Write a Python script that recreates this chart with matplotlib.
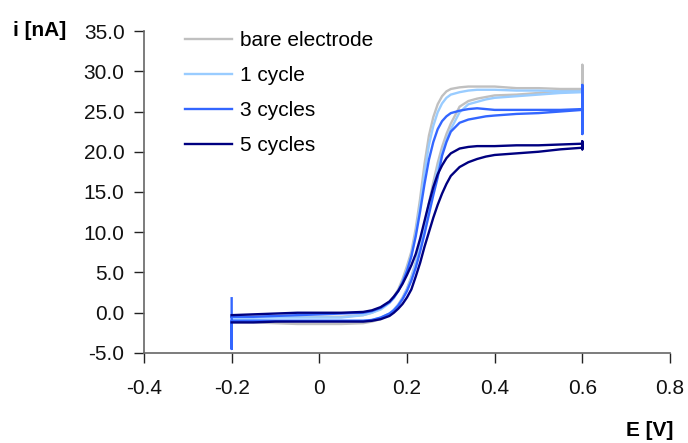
import matplotlib
matplotlib.use("Agg")
import matplotlib.pyplot as plt

plt.rcParams["font.family"] = ["Liberation Sans", "DejaVu Sans"]

# potential grid (V) shared by every branch
E_GRID = [-0.20, -0.15, -0.10, -0.05, 0.00, 0.05, 0.10, 0.12, 0.14, 0.16,
          0.17, 0.18, 0.19, 0.20, 0.21, 0.22, 0.23, 0.24, 0.25, 0.26,
          0.27, 0.28, 0.29, 0.30, 0.32, 0.34, 0.36, 0.38, 0.40, 0.45,
          0.50, 0.55, 0.60]

LABELS = ["bare electrode", "1 cycle", "3 cycles", "5 cycles"]
COLORS = ["#c0c0c0", "#99ccff", "#3366ff", "#000080"]

# lower (right-shifted) branch, nA
BARE_LOW = [-1.2, -1.2, -1.3, -1.4, -1.4, -1.4, -1.3, -1.1, -0.8, -0.2,
            0.3, 1.0, 1.9, 3.0, 4.5, 6.3, 8.5, 11.0, 13.6, 16.2,
            18.6, 20.6, 22.2, 23.5, 25.6, 26.3, 26.6, 26.8, 27.0, 27.1,
            27.3, 27.5, 27.7]
CYC1_LOW = [-0.9, -0.9, -1.0, -1.0, -1.0, -1.0, -1.0, -0.9, -0.6, -0.1,
            0.4, 1.0, 1.8, 2.9, 4.3, 6.1, 8.2, 10.6, 13.1, 15.6,
            17.9, 19.9, 21.5, 22.8, 24.9, 25.9, 26.2, 26.5, 26.7, 26.9,
            27.1, 27.3, 27.4]
CYC3_LOW = [-1.0, -1.0, -1.0, -1.0, -1.0, -1.0, -1.0, -0.9, -0.6, -0.1,
            0.3, 0.9, 1.7, 2.7, 4.0, 5.6, 7.6, 9.8, 12.2, 14.6,
            16.8, 19.5, 21.2, 22.5, 23.6, 24.0, 24.2, 24.4, 24.5, 24.7,
            24.8, 25.0, 25.2]
CYC5_LOW = [-1.2, -1.2, -1.1, -1.1, -1.1, -1.1, -1.1, -1.0, -0.8, -0.4,
            0.0, 0.5, 1.1, 1.9, 2.9, 4.5, 6.2, 8.2, 10.0, 11.8,
            13.4, 14.8, 16.0, 17.0, 18.1, 18.7, 19.1, 19.4, 19.6, 19.8,
            20.0, 20.3, 20.5]

# upper (left-shifted) branch, nA
BARE_UP = [-0.5, -0.5, -0.5, -0.5, -0.5, -0.5, -0.3, 0.0, 0.5, 1.3,
           2.0, 2.9, 4.2, 5.8, 7.6, 10.5, 14.2, 18.5, 22.0, 24.3,
           25.9, 26.9, 27.5, 27.8, 28.0, 28.1, 28.1, 28.1, 28.1, 27.9,
           27.9, 27.8, 27.8]
CYC1_UP = [-0.6, -0.6, -0.6, -0.6, -0.6, -0.6, -0.3, 0.0, 0.4, 1.2,
           1.8, 2.7, 3.9, 5.4, 7.2, 9.9, 13.4, 17.4, 20.8, 23.2,
           24.9, 26.0, 26.7, 27.1, 27.4, 27.6, 27.7, 27.7, 27.7, 27.6,
           27.6, 27.5, 27.5]
CYC3_UP = [-0.5, -0.5, -0.4, -0.3, -0.2, -0.1, 0.0, 0.2, 0.6, 1.3,
           1.9, 2.7, 3.8, 5.2, 7.0, 9.5, 12.6, 16.0, 19.0, 21.2,
           22.8, 23.8, 24.4, 24.8, 25.1, 25.3, 25.4, 25.3, 25.2, 25.2,
           25.2, 25.2, 25.3]
CYC5_UP = [-0.3, -0.2, -0.1, 0.0, 0.0, 0.0, 0.1, 0.3, 0.7, 1.4,
           2.0, 2.7, 3.6, 4.7, 5.9, 7.3, 9.2, 11.4, 13.6, 15.6,
           17.2, 18.3, 19.2, 19.8, 20.4, 20.6, 20.7, 20.7, 20.7, 20.8,
           20.8, 20.9, 21.0]

# switching spikes at -0.2 V and 0.6 V
SPIKE_START = [[], [], [1.8, -4.5], []]
SPIKE_END = [[30.8], [], [28.3, 22.2], [21.3, 20.3]]

LOWS = [BARE_LOW, CYC1_LOW, CYC3_LOW, CYC5_LOW]
UPS = [BARE_UP, CYC1_UP, CYC3_UP, CYC5_UP]

fig = plt.figure(figsize=(6.88, 4.43), dpi=100)
ax = fig.add_axes([0.2093, 0.2032, 0.7645, 0.7268])

for label, color, low, up, s0, s1 in zip(LABELS, COLORS, LOWS, UPS, SPIKE_START, SPIKE_END):
    xs = [E_GRID[0]] * len(s0) + E_GRID + [E_GRID[-1]] * len(s1) + E_GRID[::-1]
    ys = s0 + low + s1 + up[::-1]
    ax.plot(xs, ys, color=color, linewidth=1.7, label=label)

ax.set_xlim(-0.4, 0.8)
ax.set_ylim(-5, 35)
ax.set_xticks([-0.4, -0.2, 0, 0.2, 0.4, 0.6, 0.8])
ax.set_xticklabels(["-0.4", "-0.2", "0", "0.2", "0.4", "0.6", "0.8"])
ax.set_yticks([-5, 0, 5, 10, 15, 20, 25, 30, 35])
ax.set_yticklabels([f"{v:.1f}" for v in [-5, 0, 5, 10, 15, 20, 25, 30, 35]])

for side in ["top", "right"]:
    ax.spines[side].set_visible(False)
for side in ["left", "bottom"]:
    ax.spines[side].set_color("#666666")
    ax.spines[side].set_linewidth(1.2)
ax.tick_params(axis="both", direction="out", length=7, width=1.0, color="#222222",
               labelsize=15, labelcolor="#111111")
ax.tick_params(axis="y", pad=7)
ax.tick_params(axis="x", pad=12)

fig.text(13 / 688, 1 - 31 / 443, "i [nA]", fontsize=15, fontweight="bold",
         ha="left", va="center")
fig.text(673 / 688, 1 - 430 / 443, "E [V]", fontsize=15, fontweight="bold",
         ha="right", va="center")

ax.legend(loc="upper left", bbox_to_anchor=(0.078, 1.0), frameon=False,
          fontsize=15, handlelength=2.25, handletextpad=0.4, labelspacing=0.77,
          borderaxespad=0, borderpad=0)

fig.savefig("out.png", dpi=100)
